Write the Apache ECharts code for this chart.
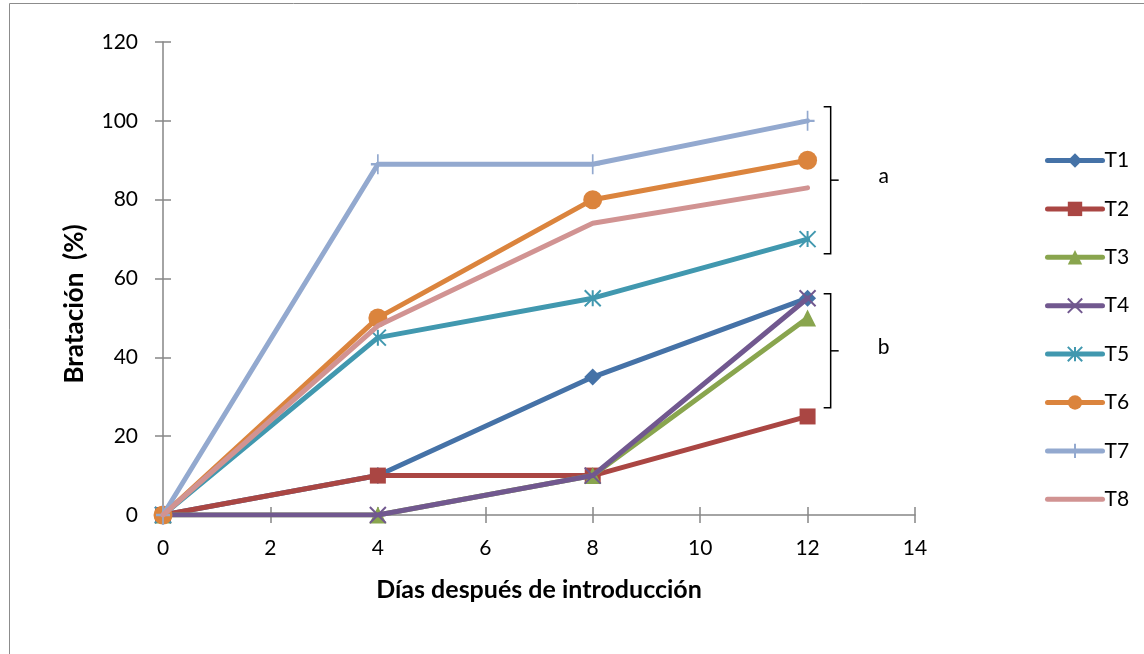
<!DOCTYPE html>
<html>
<head>
<meta charset="utf-8">
<script src="https://cdn.jsdelivr.net/npm/echarts@6/dist/echarts.min.js"></script>
<style>
  html, body { margin: 0; padding: 0; background: #fff; }
  #chart { width: 1144px; height: 654px; }
</style>
</head>
<body>
<div id="chart"></div>
<script>
// Days after introduction and sprouting percentage per treatment
const days = [0, 4, 8, 12];
const T1 = [0, 10, 35, 55];
const T2 = [0, 10, 10, 25];
const T3 = [0, 0, 10, 50];
const T4 = [0, 0, 10, 55];
const T5 = [0, 45, 55, 70];
const T6 = [0, 50, 80, 90];
const T7 = [0, 89, 89, 100];
const T8 = [0, 48, 74, 83];
const seriesNames = ['T1', 'T2', 'T3', 'T4', 'T5', 'T6', 'T7', 'T8'];
const seriesValues = [T1, T2, T3, T4, T5, T6, T7, T8];
// Significance groups: [upper %, lower %, letter]
const groups = [[103.6, 66.3, 'a'], [56.1, 27.2, 'b']];

const colors = ['#4572A7', '#AA4643', '#89A54E', '#71588F', '#4198AF', '#DB843D', '#93A9CF', '#D19392'];
const symbols = [
  'diamond', 'rect', 'triangle',
  'path://M0,0 L10,10 M10,0 L0,10',
  'path://M0,0 L10,10 M10,0 L0,10 M5,0 L5,10',
  'circle',
  'path://M5,0 L5,10 M0,5 L10,5',
  'rect'
];
const sizes = [17, 16, 17, 16, 16, 19, [14, 20], [6, 4]];
const strokeSymbols = [false, false, false, true, true, false, true, false];

const font = 'Lato, "Open Sans", sans-serif';
const chart = echarts.init(document.getElementById('chart'));

const series = seriesNames.map((name, i) => ({
  name: name,
  type: 'line',
  data: days.map((d, j) => [d, seriesValues[i][j]]),
  symbol: symbols[i],
  symbolSize: sizes[i],
  showSymbol: i !== 7,
  lineStyle: { color: colors[i], width: 5, cap: 'round', join: 'round' },
  itemStyle: strokeSymbols[i]
    ? { color: 'rgba(0,0,0,0)', borderColor: colors[i], borderWidth: 2 }
    : { color: colors[i], borderColor: colors[i], borderWidth: 0 },
  emphasis: { disabled: true },
  animation: false,
  z: 2 + i
}));

// T8 is a plain line: its legend entry hides the marker
const legendData = seriesNames.map((n, i) => i === 7 ? { name: n, itemStyle: { opacity: 0 } } : n);

const axisGray = '#868686';
const xRange = { min: 0, max: 14, interval: 2 };
const yRange = { min: 0, max: 120, interval: 20 };

chart.setOption({
  backgroundColor: '#fff',
  animation: false,
  grid: { left: 163, right: 229, top: 42, bottom: 139 },
  legend: {
    orient: 'vertical',
    left: 1040,
    top: 145,
    itemWidth: 55,
    itemHeight: 18,
    itemGap: 27.4,
    lineStyle: { width: 5 },
    textStyle: { fontFamily: font, fontSize: 21, color: '#000', padding: [0, 0, 0, -3] },
    data: legendData
  },
  xAxis: [{
    type: 'value', ...xRange,
    name: 'Días después de introducción',
    nameLocation: 'middle',
    nameGap: 62,
    nameTextStyle: { fontFamily: font, fontSize: 25, fontWeight: 'bold', color: '#000' },
    axisLine: { show: true, lineStyle: { color: axisGray, width: 1.5 } },
    axisTick: { show: true, length: 8, lineStyle: { color: axisGray, width: 1.5 } },
    axisLabel: { fontFamily: font, fontSize: 21, color: '#000', margin: 23 },
    splitLine: { show: false }
  }, {
    type: 'value', ...xRange, position: 'bottom',
    axisLine: { show: false },
    axisTick: { show: true, inside: true, length: 8, lineStyle: { color: axisGray, width: 1.5 } },
    axisLabel: { show: false },
    splitLine: { show: false }
  }],
  yAxis: [{
    type: 'value', ...yRange,
    axisLine: { show: true, lineStyle: { color: axisGray, width: 1.5 } },
    axisTick: { show: true, length: 8, lineStyle: { color: axisGray, width: 1.5 } },
    axisLabel: { fontFamily: font, fontSize: 21, color: '#000', margin: 25 },
    splitLine: { show: false }
  }, {
    type: 'value', ...yRange, position: 'left',
    axisLine: { show: false },
    axisTick: { show: true, inside: true, length: 8, lineStyle: { color: axisGray, width: 1.5 } },
    axisLabel: { show: false },
    splitLine: { show: false }
  }],
  series: series
});

// Outer frame, vertical axis title and significance brackets
const graphics = [{
  type: 'rect',
  shape: { x: 9.5, y: 3.5, width: 1160, height: 700 },
  style: { fill: null, stroke: '#8c8c8c', lineWidth: 1 },
  silent: true
}, {
  type: 'text',
  x: 75, y: 304,
  rotation: Math.PI / 2,
  style: { text: 'Bratación  (%)', font: 'bold 26px ' + font, fill: '#000', align: 'center', verticalAlign: 'middle' },
  silent: true
}];
groups.forEach(g => {
  const top = chart.convertToPixel({ xAxisIndex: 0, yAxisIndex: 0 }, [12.43, g[0]]);
  const bot = chart.convertToPixel({ xAxisIndex: 0, yAxisIndex: 0 }, [12.43, g[1]]);
  const x = top[0], y1 = top[1], y2 = bot[1], ym = (y1 + y2) / 2;
  graphics.push({
    type: 'polyline',
    shape: { points: [[x - 7, y1], [x, y1], [x, y2], [x - 7, y2]] },
    style: { stroke: '#000', lineWidth: 1.5, fill: null },
    silent: true
  });
  graphics.push({
    type: 'line',
    shape: { x1: x, y1: ym, x2: x + 8, y2: ym },
    style: { stroke: '#000', lineWidth: 1.5 },
    silent: true
  });
  graphics.push({
    type: 'text',
    x: x + 53, y: ym - 4,
    style: { text: g[2], font: '21px ' + font, fill: '#000', align: 'center', verticalAlign: 'middle' },
    silent: true
  });
});
chart.setOption({ graphic: graphics });
</script>
</body>
</html>
